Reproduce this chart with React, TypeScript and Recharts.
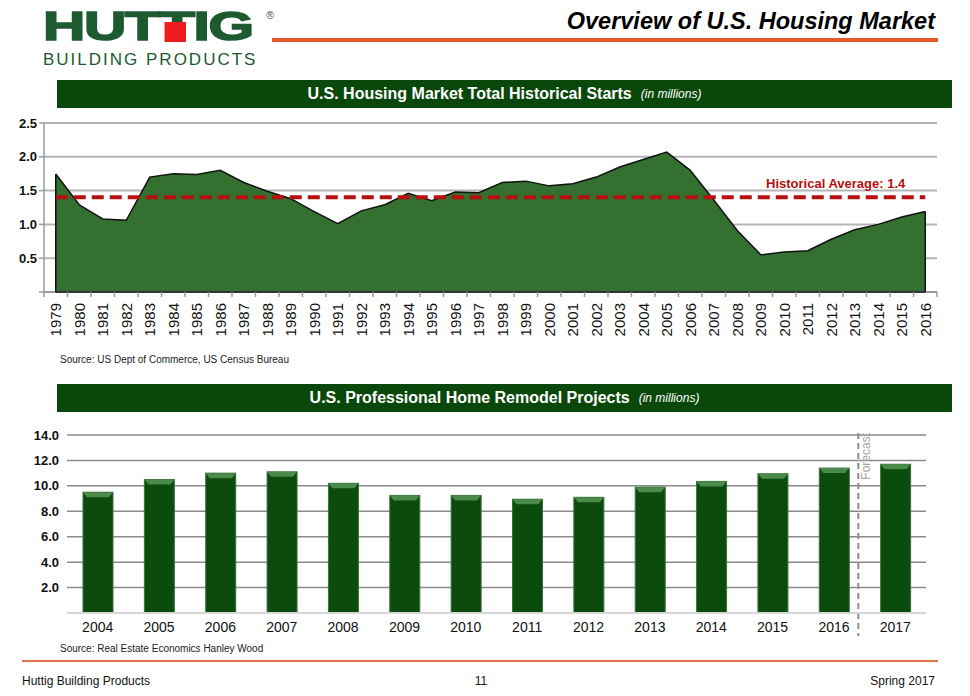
import React from 'react'
import { AreaChart, Area, BarChart, Bar, XAxis, YAxis, CartesianGrid, ReferenceLine } from 'recharts'

const startYears = [
  '1979', '1980', '1981', '1982', '1983', '1984', '1985', '1986', '1987', '1988',
  '1989', '1990', '1991', '1992', '1993', '1994', '1995', '1996', '1997', '1998',
  '1999', '2000', '2001', '2002', '2003', '2004', '2005', '2006', '2007', '2008',
  '2009', '2010', '2011', '2012', '2013', '2014', '2015', '2016',
]
const startValues = [
  1.745, 1.29, 1.08, 1.06, 1.7, 1.75, 1.74, 1.8, 1.62, 1.49,
  1.38, 1.19, 1.01, 1.2, 1.29, 1.46, 1.35, 1.48, 1.47, 1.62,
  1.64, 1.57, 1.6, 1.7, 1.85, 1.96, 2.07, 1.8, 1.36, 0.91,
  0.55, 0.59, 0.61, 0.78, 0.92, 1.0, 1.11, 1.19,
]
const startTicks = [0, 0.5, 1, 1.5, 2, 2.5]
const historicalAverage = 1.4

const remodelYears = ['2004', '2005', '2006', '2007', '2008', '2009', '2010', '2011', '2012', '2013', '2014', '2015', '2016', '2017']
const remodelValues = [9.5, 10.5, 11.0, 11.1, 10.2, 9.25, 9.25, 8.95, 9.1, 9.9, 10.35, 10.95, 11.4, 11.7]
const remodelTicks = [0, 2, 4, 6, 8, 10, 12, 14]
const forecastYear = '2017'

const startData = startYears.map((year, i) => ({ year, starts: startValues[i] }))
const remodelData = remodelYears.map((year, i) => ({ year, projects: remodelValues[i] }))

const FONT = '"Liberation Sans", Arial, sans-serif'
const GREEN = '#1d5a30'
const BANNER = '#0a470a'
const ORANGE = '#e45a2a'
const AVG_RED = '#b80f0f'
const HALF_STEP = 11.75 // half the distance between two years on the starts axis

const firstYear = startYears[0]
const lastYear = startYears[startYears.length - 1]

function YearTick(props: any) {
  const { x, y, payload } = props
  const half = payload?.offset || HALF_STEP
  const isLast = payload?.value === lastYear
  return (
    <g>
      <line x1={x - half} y1={y} x2={x - half} y2={y + 5} stroke="#9a9a9a" strokeWidth={1.5} />
      {isLast && <line x1={x + half} y1={y} x2={x + half} y2={y + 5} stroke="#9a9a9a" strokeWidth={1.5} />}
      <text
        x={x + 5.5}
        y={y + 11}
        transform={`rotate(-90, ${x + 5.5}, ${y + 11})`}
        textAnchor="end"
        fontSize={15}
        fill="#111"
      >
        {payload.value}
      </text>
    </g>
  )
}

function AvgLine(props: any) {
  const { x1, x2, y1 } = props
  const right = Math.max(x1, x2)
  return (
    <g>
      <line x1={Math.min(x1, x2)} y1={y1} x2={right} y2={y1} stroke={AVG_RED} strokeWidth={4} strokeDasharray="12 6" />
      <text x={right - 20} y={y1 - 9} textAnchor="end" fill={AVG_RED} fontSize={13} fontWeight={700}>
        {`Historical Average: ${historicalAverage}`}
      </text>
    </g>
  )
}

function BevelBar(props: any) {
  const { x, y, width, height } = props
  if (!height || height <= 0) return null
  return (
    <g>
      <rect x={x} y={y} width={width} height={height} fill="#0b4b0b" stroke="#3a733a" strokeWidth={1} />
      <polygon
        points={`${x},${y} ${x + width},${y} ${x + width - 4},${y + 5} ${x + 4},${y + 5}`}
        fill="#4a8a4a"
      />
    </g>
  )
}

function ForecastLine(props: any) {
  const { x1, y1, y2 } = props
  const top = Math.min(y1, y2)
  const bottom = Math.max(y1, y2)
  const lx = x1 - 37
  return (
    <g>
      <line x1={lx} y1={top - 2} x2={lx} y2={bottom + 23} stroke="#8c8c8c" strokeWidth={2} strokeDasharray="6 4" />
      <text
        x={lx + 12}
        y={top - 2}
        transform={`rotate(-90, ${lx + 12}, ${top - 2})`}
        textAnchor="end"
        fontSize={12}
        fill="#a3a3a3"
      >
        Forecast
      </text>
    </g>
  )
}

function Banner({ top, title }: { top: number; title: string }) {
  return (
    <div
      style={{
        position: 'absolute', left: 57, top, width: 895, height: 28, background: BANNER,
        display: 'flex', alignItems: 'center', justifyContent: 'center', color: '#fff',
      }}
    >
      <span style={{ fontSize: 16, fontWeight: 700 }}>{title}</span>
      <span style={{ fontSize: 12, fontStyle: 'italic', marginLeft: 9 }}>(in millions)</span>
    </div>
  )
}

export default function App() {
  return (
    <div style={{ position: 'absolute', left: 0, top: 0, width: 970, height: 696, background: '#fff', fontFamily: FONT, overflow: 'hidden' }}>
      {/* logo */}
      <div style={{ position: 'absolute', left: 43, top: 6, lineHeight: 1, fontSize: 41, fontWeight: 700, color: GREEN, letterSpacing: -1, transform: 'scaleX(1.43)', transformOrigin: 'left top', whiteSpace: 'nowrap', WebkitTextStroke: `1.6px ${GREEN}` }}>
        HUT
        <span style={{ position: 'relative', display: 'inline-block' }}>
          T
          <span style={{ position: 'absolute', left: '16%', width: '62%', top: 16, height: 20, background: '#ee1c1c' }} />
        </span>
        IG
      </div>
      <div style={{ position: 'absolute', left: 266, top: 9, fontSize: 11, color: '#555' }}>®</div>
      <div style={{ position: 'absolute', left: 43, top: 51, lineHeight: 1, fontSize: 17, color: GREEN, letterSpacing: 2, whiteSpace: 'nowrap' }}>
        BUILDING PRODUCTS
      </div>

      {/* title */}
      <div style={{ position: 'absolute', right: 35, top: 10, lineHeight: 1, fontSize: 23.5, fontWeight: 700, fontStyle: 'italic', color: '#000' }}>
        Overview of U.S. Housing Market
      </div>
      <div style={{ position: 'absolute', left: 272, top: 38, width: 666, height: 4, background: ORANGE }} />

      <Banner top={80} title="U.S. Housing Market Total Historical Starts" />

      <div style={{ position: 'absolute', left: 0, top: 110 }}>
        <AreaChart width={970} height={250} data={startData} margin={{ top: 13, right: 33, left: 0, bottom: 0 }}>
          <CartesianGrid vertical={false} stroke="#b5b5b5" strokeWidth={2} />
          <XAxis
            dataKey="year"
            interval={0}
            height={68}
            padding={{ left: HALF_STEP, right: HALF_STEP }}
            tickLine={false}
            tickSize={0}
            tickMargin={0}
            tick={<YearTick />}
            axisLine={{ stroke: '#9a9a9a', strokeWidth: 2 }}
          />
          <YAxis
            width={44}
            domain={[0, 2.5]}
            ticks={startTicks}
            tickSize={5}
            tickFormatter={(v: number) => (v === 0 ? '' : v.toFixed(1))}
            tick={{ fontSize: 13, fontWeight: 700, fill: '#111' }}
            axisLine={{ stroke: '#9a9a9a', strokeWidth: 1.5 }}
            tickLine={{ stroke: '#9a9a9a', strokeWidth: 1.5 }}
          />
          <Area
            type="linear"
            dataKey="starts"
            fill="#34702f"
            fillOpacity={1}
            stroke="#111"
            strokeWidth={1.5}
            isAnimationActive={false}
          />
          <ReferenceLine zIndex={900} segment={[{ x: firstYear, y: 0 }, { x: firstYear, y: startValues[0] }]} stroke="#111" strokeWidth={1.5} />
          <ReferenceLine zIndex={900} segment={[{ x: lastYear, y: 0 }, { x: lastYear, y: startValues[startValues.length - 1] }]} stroke="#111" strokeWidth={1.5} />
          <ReferenceLine zIndex={900} segment={[{ x: firstYear, y: 0 }, { x: lastYear, y: 0 }]} stroke="#111" strokeWidth={1.5} />
          <ReferenceLine
            zIndex={950}
            segment={[{ x: firstYear, y: historicalAverage }, { x: lastYear, y: historicalAverage }]}
            shape={AvgLine}
          />
        </AreaChart>
      </div>

      <div style={{ position: 'absolute', left: 60, top: 354, fontSize: 10, color: '#222' }}>
        Source: US Dept of Commerce, US Census Bureau
      </div>

      <Banner top={384} title="U.S. Professional Home Remodel Projects" />

      <div style={{ position: 'absolute', left: 0, top: 420 }}>
        <BarChart width={970} height={228} data={remodelData} margin={{ top: 15, right: 44, left: 0, bottom: 0 }}>
          <CartesianGrid vertical={false} stroke="#8a8a8a" strokeWidth={1.5} />
          <XAxis
            dataKey="year"
            interval={0}
            height={35}
            tickLine={false}
            tickSize={0}
            tickMargin={9}
            tick={{ fontSize: 14, fill: '#111' }}
            axisLine={{ stroke: '#d6d6d6', strokeWidth: 2 }}
          />
          <YAxis
            width={67}
            domain={[0, 14]}
            ticks={remodelTicks}
            axisLine={false}
            tickLine={false}
            tickFormatter={(v: number) => (v === 0 ? '' : v.toFixed(1))}
            tick={{ fontSize: 13, fontWeight: 700, fill: '#111' }}
          />
          <Bar dataKey="projects" barSize={30} shape={<BevelBar />} isAnimationActive={false} />
          <ReferenceLine x={forecastYear} shape={ForecastLine} />
        </BarChart>
      </div>

      <div style={{ position: 'absolute', left: 60, top: 643, fontSize: 10, color: '#222' }}>
        Source: Real Estate Economics Hanley Wood
      </div>

      {/* footer */}
      <div style={{ position: 'absolute', left: 22, top: 660, width: 916, height: 2, background: '#e4704a' }} />
      <div style={{ position: 'absolute', left: 22, top: 674, fontSize: 12, fontFamily: '"Liberation Sans Narrow", ' + FONT, color: '#111' }}>
        Huttig Building Products
      </div>
      <div style={{ position: 'absolute', left: 0, width: 962, top: 674, textAlign: 'center', fontSize: 12, fontFamily: '"Liberation Sans Narrow", ' + FONT, color: '#111' }}>
        11
      </div>
      <div style={{ position: 'absolute', right: 35, top: 674, fontSize: 12, fontFamily: '"Liberation Sans Narrow", ' + FONT, color: '#111' }}>
        Spring 2017
      </div>
    </div>
  )
}
